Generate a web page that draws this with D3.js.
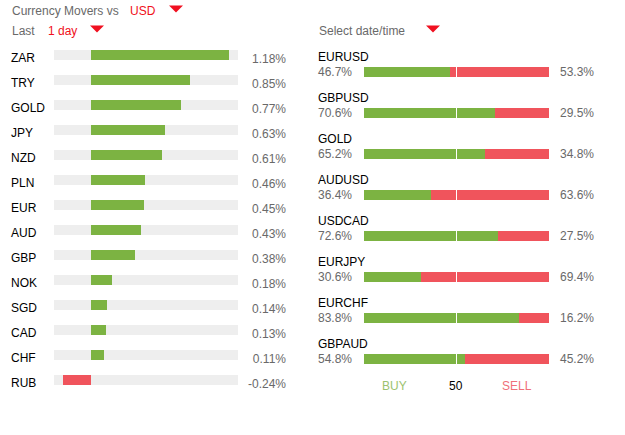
<!DOCTYPE html>
<html>
<head>
<meta charset="utf-8">
<script src="https://cdn.jsdelivr.net/npm/d3@7"></script>
<style>
  html, body { margin: 0; padding: 0; background: #fff; }
  svg { display: block; font-family: "Liberation Sans", Arial, sans-serif; font-size: 12px; }
  rect { shape-rendering: crispEdges; }
</style>
</head>
<body>
<svg id="chart" width="625" height="435"></svg>
<script>
  // Currency movers (left panel)
  const currencies = ['ZAR', 'TRY', 'GOLD', 'JPY', 'NZD', 'PLN', 'EUR', 'AUD', 'GBP', 'NOK', 'SGD', 'CAD', 'CHF', 'RUB'];
  const moves = [1.18, 0.85, 0.77, 0.63, 0.61, 0.46, 0.45, 0.43, 0.38, 0.18, 0.14, 0.13, 0.11, -0.24];

  // Buy / sell sentiment (right panel)
  const pairs = ['EURUSD', 'GBPUSD', 'GOLD', 'AUDUSD', 'USDCAD', 'EURJPY', 'EURCHF', 'GBPAUD'];
  const buys = [46.7, 70.6, 65.2, 36.4, 72.6, 30.6, 83.8, 54.8];
  const sells = [53.3, 29.5, 34.8, 63.6, 27.5, 69.4, 16.2, 45.2];

  const GREEN = '#7cb342', RED = '#f0545c', TRACK = '#eeeeee', GREY = '#696969';

  const svg = d3.select('#chart');

  // Header text and dropdown arrows
  function label(x, y, txt, color) {
    return svg.append('text').attr('x', x).attr('y', y).attr('fill', color).text(txt);
  }
  function arrow(x, y) {
    svg.append('path').attr('d', `M${x},${y}h14l-7,7z`).attr('fill', '#f01020');
  }
  label(12, 15, 'Currency Movers vs', GREY);
  label(130, 15, 'USD', '#f01020');
  arrow(169, 5.5);
  label(12, 35, 'Last', GREY);
  label(48, 35, '1 day', '#f01020');
  arrow(90, 25.5);
  label(319, 35, 'Select date/time', GREY);
  arrow(426, 25.5);

  // Left panel
  const x = d3.scaleLinear().domain([-0.317, 1.2596]).range([54, 238]);
  const y = d3.scaleBand().domain(currencies).range([43, 393]);
  const rows = svg.append('g').selectAll('g').data(currencies).join('g')
    .attr('transform', d => `translate(0,${y(d)})`);

  rows.append('rect').attr('x', x.range()[0]).attr('y', 7)
    .attr('width', x.range()[1] - x.range()[0]).attr('height', 10).attr('fill', TRACK);
  rows.append('rect')
    .attr('x', (d, i) => x(Math.min(0, moves[i])))
    .attr('y', 7)
    .attr('width', (d, i) => Math.abs(x(moves[i]) - x(0)))
    .attr('height', 10)
    .attr('fill', (d, i) => moves[i] < 0 ? RED : GREEN);
  rows.append('text').attr('x', 11).attr('y', 19).attr('fill', '#000').text(d => d);
  rows.append('text').attr('x', 286).attr('y', 20).attr('text-anchor', 'end').attr('fill', GREY)
    .text((d, i) => moves[i].toFixed(2) + '%');

  // Right panel
  const sx = d3.scaleLinear().domain([0, 100]).range([364, 549]);
  const sy = d3.scaleBand().domain(pairs).range([46, 374]);
  const pairRows = svg.append('g').selectAll('g').data(pairs).join('g')
    .attr('transform', d => `translate(0,${sy(d)})`);

  pairRows.append('rect').attr('x', sx(0)).attr('y', 21)
    .attr('width', sx(100) - sx(0)).attr('height', 10).attr('fill', RED);
  pairRows.append('rect').attr('x', sx(0)).attr('y', 21)
    .attr('width', (d, i) => sx(buys[i]) - sx(0)).attr('height', 10).attr('fill', GREEN);
  pairRows.append('rect').attr('x', Math.floor(sx(50))).attr('y', 21)
    .attr('width', 1).attr('height', 10).attr('fill', '#fff');
  pairRows.append('text').attr('x', 318).attr('y', 15).attr('fill', '#000').text(d => d);
  pairRows.append('text').attr('x', 318).attr('y', 30).attr('fill', GREY)
    .text((d, i) => buys[i].toFixed(1) + '%');
  pairRows.append('text').attr('x', 560).attr('y', 30).attr('fill', GREY)
    .text((d, i) => sells[i].toFixed(1) + '%');

  // Footer legend
  label(382, 390, 'BUY', '#9cc26e');
  label(449, 390, '50', '#000');
  label(502, 390, 'SELL', '#f0707a');
</script>
</body>
</html>
